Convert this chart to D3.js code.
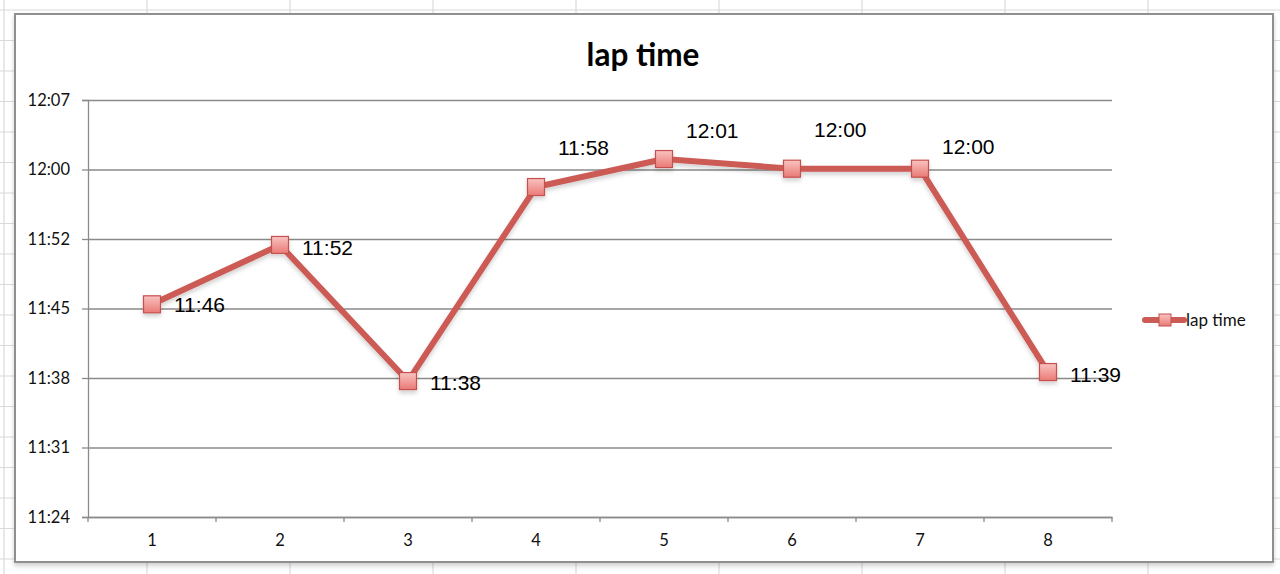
<!DOCTYPE html>
<html>
<head>
<meta charset="utf-8">
<script src="https://cdn.jsdelivr.net/npm/d3@7"></script>
<style>
  html, body { margin: 0; padding: 0; background: #fff; }
  svg { display: block; }
</style>
</head>
<body>
<div id="chart"></div>
<script>
// data
var laps = [1, 2, 3, 4, 5, 6, 7, 8];
var lapTimes = ["11:46:02", "11:52:11", "11:38:05", "11:58:11", "12:01:05", "12:00:05", "12:00:05", "11:39:01"];
var yTicks = ["11:24:00", "11:31:12", "11:38:24", "11:45:36", "11:52:48", "12:00:00", "12:07:12"];
var seriesName = "lap time";
var chartTitle = "lap time";

// label nudges (Excel moved some labels up to avoid the line)
var labelDy = [8, 10, 9, -32, -21, -32, -15, 10];

var W = 1280, H = 574;
var plot = { left: 88, right: 1112, top: 100, bottom: 517 };

function toMin(s) {
  var p = s.split(":").map(Number);
  return p[0] * 60 + p[1] + (p[2] || 0) / 60;
}
function fmt(m) {
  var h = Math.floor(m / 60);
  var mm = Math.floor(m - h * 60 + 1e-6);
  return h + ":" + (mm < 10 ? "0" : "") + mm;
}

var svg = d3.select("#chart").append("svg")
    .attr("width", W)
    .attr("height", H);

var defs = svg.append("defs");
var grad = defs.append("linearGradient")
    .attr("id", "mk").attr("x1", 0).attr("y1", 0).attr("x2", 0).attr("y2", 1);
grad.append("stop").attr("offset", "0%").attr("stop-color", "#f9c3c1");
grad.append("stop").attr("offset", "100%").attr("stop-color", "#ea7a76");

var shadow = defs.append("filter").attr("id", "sh")
    .attr("x", "-20%").attr("y", "-20%").attr("width", "140%").attr("height", "160%");
shadow.append("feDropShadow")
    .attr("dx", 0).attr("dy", 3).attr("stdDeviation", 2)
    .attr("flood-color", "#000").attr("flood-opacity", 0.18);

// spreadsheet cells behind the chart
var cells = svg.append("g").attr("stroke", "#dadada").attr("stroke-width", 1.2);
d3.range(4, W, 143).forEach(function(x) {
  cells.append("line").attr("x1", x).attr("x2", x).attr("y1", 0).attr("y2", H);
});
d3.range(10, H, 30.5).forEach(function(y) {
  cells.append("line").attr("x1", 0).attr("x2", W).attr("y1", y).attr("y2", y);
});

// chart frame
svg.append("rect")
    .attr("x", 15).attr("y", 14)
    .attr("width", 1258).attr("height", 548)
    .attr("fill", "#fff")
    .attr("stroke", "#8f8f8f")
    .attr("stroke-width", 2)
    .attr("filter", "url(#sh)");

// scales
var x = d3.scaleBand().domain(laps).range([plot.left, plot.right]);
var y = d3.scaleLinear()
    .domain([toMin(yTicks[0]), toMin(yTicks[yTicks.length - 1])])
    .range([plot.bottom, plot.top]);

// gridlines + y axis
var yAxis = d3.axisLeft(y)
    .tickValues(yTicks.map(toMin))
    .tickSize(6)
    .tickPadding(12)
    .tickFormat(fmt);

var grid = svg.append("g")
    .attr("transform", "translate(" + plot.left + ",0)")
    .call(d3.axisLeft(y).tickValues(yTicks.map(toMin)).tickSize(-(plot.right - plot.left)).tickFormat(""));
grid.select(".domain").remove();
grid.selectAll("line").attr("stroke", "#8a8a8a").attr("stroke-width", 1.3);

var gy = svg.append("g")
    .attr("transform", "translate(" + plot.left + ",0)")
    .call(yAxis);
gy.select(".domain").attr("stroke", "#8a8a8a").attr("stroke-width", 1.3);
gy.selectAll("line").attr("stroke", "#8a8a8a").attr("stroke-width", 1.3);
gy.selectAll("text")
    .attr("font-family", "Lato, 'Open Sans', sans-serif")
    .attr("font-size", 16.5)
    .attr("fill", "#111");

// x axis: labels in band centres, ticks on band edges
var gx = svg.append("g")
    .attr("transform", "translate(0," + plot.bottom + ")")
    .call(d3.axisBottom(x).tickSize(0).tickPadding(17));
gx.select(".domain").attr("stroke", "#8a8a8a").attr("stroke-width", 1.3);
gx.selectAll("text")
    .attr("font-family", "Lato, 'Open Sans', sans-serif")
    .attr("font-size", 16.5)
    .attr("fill", "#111");
var edges = laps.map(function(d) { return x(d); }).concat([x(laps[laps.length - 1]) + x.bandwidth()]);
gx.selectAll(".edge").data(edges).enter()
  .append("line")
    .attr("class", "edge")
    .attr("x1", function(d) { return d; })
    .attr("x2", function(d) { return d; })
    .attr("y1", 0).attr("y2", 5)
    .attr("stroke", "#8a8a8a").attr("stroke-width", 1.3);

// title
svg.append("text")
    .attr("x", 643).attr("y", 66)
    .attr("text-anchor", "middle")
    .attr("font-family", "Lato, 'Open Sans', sans-serif")
    .attr("font-weight", "bold")
    .attr("font-size", 31.5)
    .attr("fill", "#000")
    .text(chartTitle);

// series
var pts = lapTimes.map(function(t, i) {
  return { lap: laps[i], v: toMin(t), dy: labelDy[i] };
});
var cx = function(d) { return x(d.lap) + x.bandwidth() / 2; };

var line = d3.line()
    .x(cx)
    .y(function(d) { return y(d.v); });

var series = svg.append("g").attr("filter", "url(#sh)");
series.append("path")
    .datum(pts)
    .attr("d", line)
    .attr("fill", "none")
    .attr("stroke", "#cc5a55")
    .attr("stroke-width", 6)
    .attr("stroke-linejoin", "round");

var ms = 17;
series.selectAll("rect.mk").data(pts).enter()
  .append("rect")
    .attr("class", "mk")
    .attr("x", function(d) { return cx(d) - ms / 2; })
    .attr("y", function(d) { return y(d.v) - ms / 2; })
    .attr("width", ms).attr("height", ms)
    .attr("fill", "url(#mk)")
    .attr("stroke", "#c4514d")
    .attr("stroke-width", 1.2);

// data labels
svg.selectAll("text.lbl").data(pts).enter()
  .append("text")
    .attr("class", "lbl")
    .attr("x", function(d) { return cx(d) + 22; })
    .attr("y", function(d) { return y(d.v) + d.dy; })
    .attr("font-family", "'Liberation Sans', Arial, sans-serif")
    .attr("font-size", 21)
    .attr("fill", "#000")
    .text(function(d) { return fmt(d.v); });

// legend
var lg = svg.append("g").attr("transform", "translate(1145,320)");
lg.append("line")
    .attr("x1", 0).attr("x2", 39).attr("y1", 0).attr("y2", 0)
    .attr("stroke", "#cc5a55").attr("stroke-width", 6)
    .attr("stroke-linecap", "round");
lg.append("rect")
    .attr("x", 14).attr("y", -6).attr("width", 12).attr("height", 12)
    .attr("fill", "url(#mk)").attr("stroke", "#c4514d").attr("stroke-width", 1);
lg.append("text")
    .attr("x", 41).attr("y", 6)
    .attr("font-family", "Lato, 'Open Sans', sans-serif")
    .attr("font-size", 17)
    .attr("fill", "#111")
    .text(seriesName);
</script>
</body>
</html>
